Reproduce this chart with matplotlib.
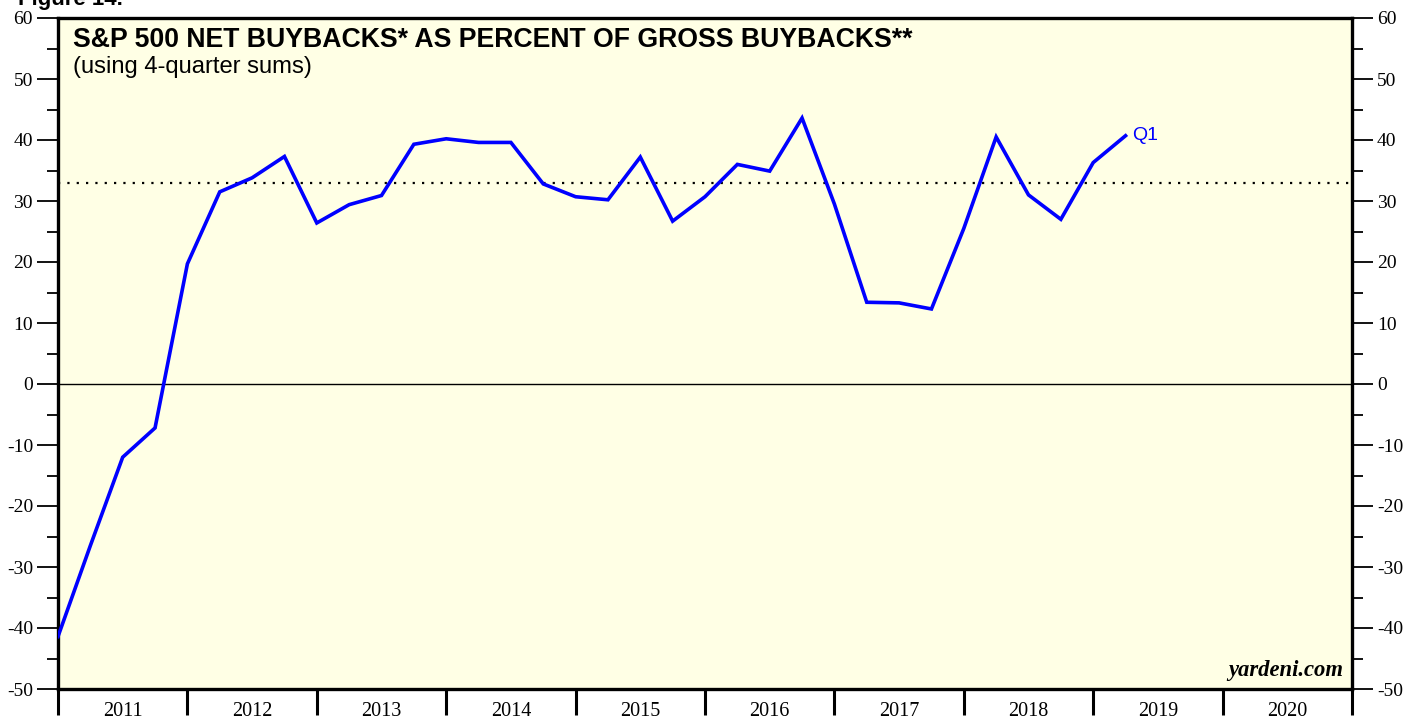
import matplotlib
matplotlib.use("Agg")
import matplotlib.pyplot as plt
from matplotlib.ticker import MultipleLocator, FixedLocator, NullFormatter, FixedFormatter

plt.rcParams["axes.unicode_minus"] = False

# Quarterly data, starting 2011 Q1
start_year = 2011
values = [-41.4, -26.5, -12.0, -7.2, 19.7, 31.5, 33.8, 37.3, 26.4, 29.4,
          30.9, 39.3, 40.2, 39.6, 39.6, 32.8, 30.7, 30.2, 37.2, 26.7,
          30.7, 36.0, 34.9, 43.6, 29.5, 13.4, 13.3, 12.3, 25.5, 40.5,
          31.0, 27.0, 36.3, 40.7]
average = 33.0
years = list(range(2011, 2021))
last_label = "Q1"

x = [start_year + i / 4 for i in range(len(values))]

fig = plt.figure(figsize=(14.06, 7.21), dpi=100)
ax = fig.add_axes([58/1406, 32/721, (1352-58)/1406, (689-18)/721])
ax.set_facecolor("#FFFFE5")

ax.plot(x, values, color="#0000FF", lw=2.6, solid_joinstyle="miter", zorder=3)
ax.axhline(0, color="black", lw=1.0, zorder=2)
ax.axhline(average, color="black", lw=1.6, ls=(0, (1, 3.2)), zorder=2)

ax.set_xlim(2011, 2021)
ax.set_ylim(-50, 60)

serif = ["Liberation Serif", "DejaVu Serif"]
sans = ["Liberation Sans", "DejaVu Sans"]

# Y axis ticks both sides
ax.yaxis.set_major_locator(MultipleLocator(10))
ax.yaxis.set_minor_locator(MultipleLocator(5))
ax.tick_params(axis="y", which="major", length=15, width=1.3, direction="out",
               left=True, right=True, labelleft=True, labelright=True,
               labelsize=14, pad=3)
ax.tick_params(axis="y", which="minor", length=8, width=1.3, direction="out",
               left=True, right=True)
for lab in ax.get_yticklabels():
    lab.set_fontfamily(serif)

# X axis: year boundaries as major ticks, labels centred at mid-year
ax.xaxis.set_major_locator(FixedLocator(list(range(2011, 2022))))
ax.xaxis.set_major_formatter(NullFormatter())
ax.xaxis.set_minor_locator(FixedLocator([y + 0.5 for y in years]))
ax.xaxis.set_minor_formatter(FixedFormatter([str(y) for y in years]))
ax.tick_params(axis="x", which="major", length=19, width=2.2, direction="out")
ax.tick_params(axis="x", which="minor", length=0, labelsize=14.5, pad=9)
for lab in ax.get_xticklabels(minor=True):
    lab.set_fontfamily(serif)

for s in ax.spines.values():
    s.set_linewidth(2.4)

# Titles
ax.text(0.0116, 0.9572, "S&P 500 NET BUYBACKS* AS PERCENT OF GROSS BUYBACKS**",
        transform=ax.transAxes, ha="left", va="baseline", fontsize=19.2,
        fontweight="bold", family=sans)
ax.text(0.0116, 0.9176, "(using 4-quarter sums)", transform=ax.transAxes,
        ha="left", va="baseline", fontsize=17.1, family=sans)
fig.text(18/1406, 1.0, "Figure 14.", ha="left", va="center", fontsize=16,
         fontweight="bold", family=sans)

ax.text(0.993, 0.012, "yardeni.com", transform=ax.transAxes, ha="right",
        va="bottom", fontsize=16.3, fontweight="bold", fontstyle="italic",
        family=serif)

ax.annotate(last_label, xy=(x[-1], values[-1]), xytext=(4.5, 0),
            textcoords="offset points", color="#0000FF", fontsize=14,
            family=sans, va="center", ha="left")

fig.savefig("out.png", dpi=100, facecolor="white")
